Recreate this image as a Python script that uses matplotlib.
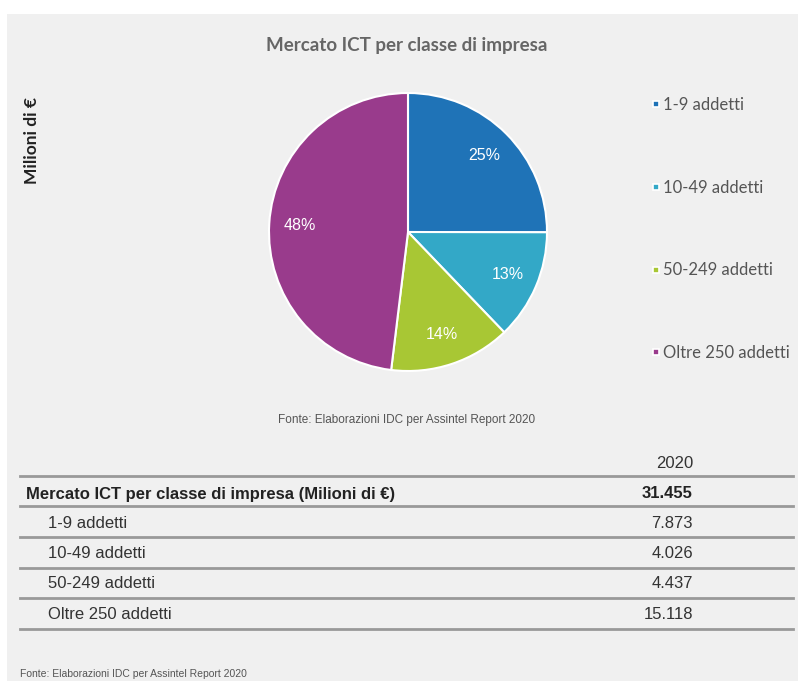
import matplotlib.pyplot as plt
from matplotlib.lines import Line2D
from matplotlib.patches import Rectangle

# ===== Dati =====
categorie = ['1-9 addetti', '10-49 addetti', '50-249 addetti', 'Oltre 250 addetti']
valori_2020 = [7873, 4026, 4437, 15118]
totale_2020 = 31455
colori = ['#1f73b7', '#33a8c7', '#a8c734', '#993b8c']

titolo = 'Mercato ICT per classe di impresa'
riga_totale = 'Mercato ICT per classe di impresa (Milioni di €)'
anno = '2020'
fonte = 'Fonte: Elaborazioni IDC per Assintel Report 2020'


def fmt_it(v):
    return f'{v:,}'.replace(',', '.')


W, H = 798, 681
fig = plt.figure(figsize=(W / 100, H / 100), dpi=100, facecolor='white')

# overlay in coordinate pixel
bg = fig.add_axes([0, 0, 1, 1])
bg.set_xlim(0, W)
bg.set_ylim(H, 0)
bg.axis('off')
bg.add_patch(Rectangle((7, 14), W - 7, H - 14, facecolor='#f0f0f0', edgecolor='none'))

title_font = ['Lato', 'DejaVu Sans']
arial = ['Liberation Sans', 'DejaVu Sans']
table_font = ['Liberation Sans Narrow', 'Liberation Sans', 'DejaVu Sans']

bg.text(407, 45, titolo, ha='center', va='center', fontsize=13.5,
        fontweight='bold', color='#666666', family=title_font)
bg.text(32, 140, 'Milioni di €', rotation=90, ha='center', va='center',
        fontsize=12.5, fontweight='bold', color='#222222', family=title_font)

# ===== Pie =====
R = 139
cx, cy = 408, 232
ax = fig.add_axes([(cx - R) / W, 1 - (cy + R) / H, 2 * R / W, 2 * R / H])
wedges, _, autotexts = ax.pie(
    valori_2020,
    colors=colori,
    startangle=90,
    counterclock=False,
    autopct='%1.0f%%',
    pctdistance=0.78,
    wedgeprops=dict(edgecolor='white', linewidth=1.5),
    textprops=dict(color='white', fontsize=11.5, family=arial),
)
ax.set_xlim(-1.0, 1.0)
ax.set_ylim(-1.0, 1.0)
ax.set_aspect('equal')
ax.axis('off')

# ===== Legenda =====
handles = [Line2D([], [], marker='s', linestyle='none', markersize=5,
                  markerfacecolor=c, markeredgecolor='white', markeredgewidth=1.2)
           for c in colori]
fig.legend(handles, categorie, loc='upper left',
           bbox_to_anchor=(636 / W, 1 - 82 / H), frameon=False,
           handlelength=0.6, handletextpad=0.12, labelspacing=4.0,
           prop=dict(family=title_font, size=12), labelcolor='#555555')

bg.text(407, 420, fonte, ha='center', va='center', fontsize=8.5,
        color='#555555', family=arial)

# ===== Tabella =====
x0, x1 = 20, 793
xv = 693
line_col = '#999999'
bg.text(xv, 463, anno, ha='right', va='center', fontsize=12,
        color='#333333', family=table_font)
bg.plot([x0, x1], [476, 476], color=line_col, lw=2)
bg.text(26, 494, riga_totale, ha='left', va='center', fontsize=12,
        fontweight='bold', color='#222222', family=table_font)
bg.text(xv, 494, fmt_it(totale_2020), ha='right', va='center', fontsize=12,
        fontweight='bold', color='#222222', family=table_font)
bg.plot([x0, x1], [506, 506], color=line_col, lw=2)

y = 523
for cat, v in zip(categorie, valori_2020):
    bg.text(48, y, cat, ha='left', va='center', fontsize=12,
            color='#333333', family=table_font)
    bg.text(xv, y, fmt_it(v), ha='right', va='center', fontsize=12,
            color='#333333', family=table_font)
    bg.plot([x0, x1], [y + 14, y + 14], color=line_col, lw=2)
    y += 30.5

bg.text(20, 674, fonte, ha='left', va='center', fontsize=7.5,
        color='#555555', family=arial)

fig.savefig('out.png', dpi=100, facecolor=fig.get_facecolor())
